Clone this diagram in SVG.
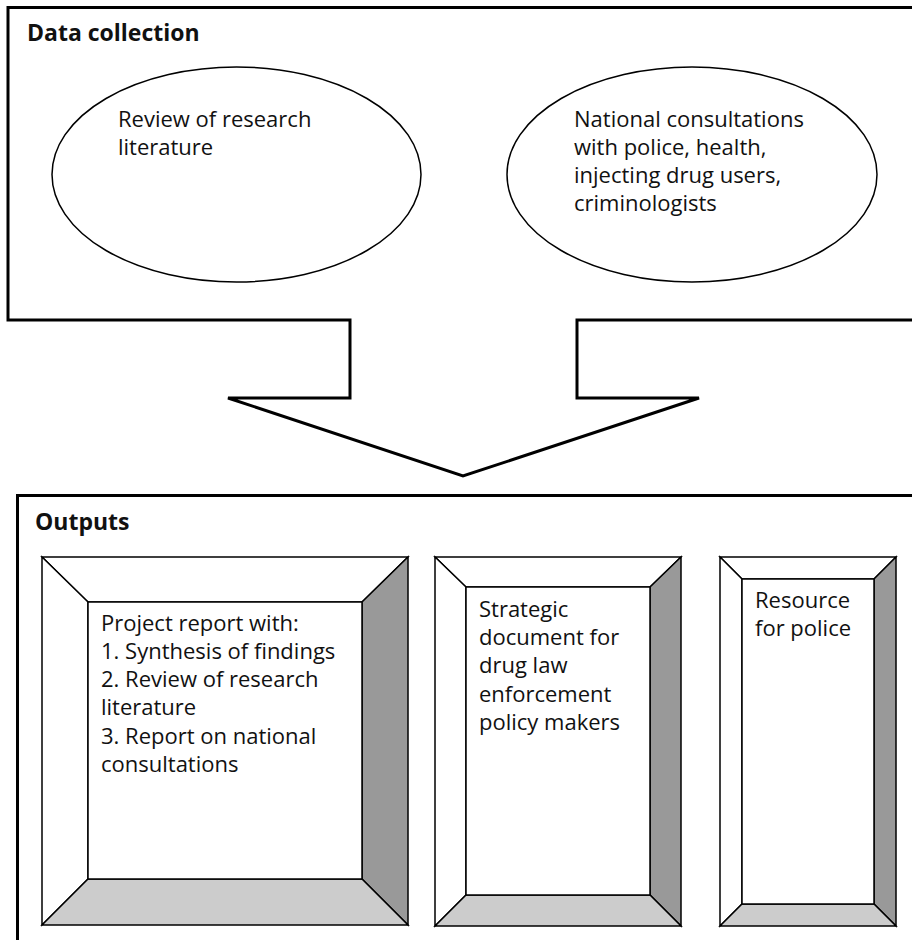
<svg xmlns="http://www.w3.org/2000/svg" width="912" height="940" viewBox="0 0 912 940">
<style>
text{font-family:"Open Sans","Noto Sans","Liberation Sans",sans-serif;fill:#111}
.t{font-size:22px}
.h{font-size:23px;font-weight:bold}
.frame{fill:#fff;stroke:#000;stroke-width:3}
.el{fill:#fff;stroke:#000;stroke-width:1.5}
.bv{stroke:#000;stroke-width:1.5;stroke-linejoin:miter}
.lt{fill:#fff}
.dk{fill:#999}
.md{fill:#ccc}
</style>
<rect width="912" height="940" fill="#fff"/>
<g id="connectors">
<path class="frame" d="M8,7.5 H915 V320 H577 V398 H699 L463,476 L228,398 H350 V320 H8 Z"/>
</g>
<g id="data-collection">
<text class="h" x="27" y="41">Data collection</text>
</g>
<g id="review">
<ellipse class="el" cx="236.5" cy="174.5" rx="184.5" ry="107.5"/>
<text class="t" x="118" y="127">Review of research</text>
<text class="t" x="118" y="155">literature</text>
</g>
<g id="consultations">
<ellipse class="el" cx="692" cy="174.5" rx="185" ry="107.5"/>
<text class="t" x="574" y="127">National consultations</text>
<text class="t" x="574" y="155">with police, health,</text>
<text class="t" x="574" y="183">injecting drug users,</text>
<text class="t" x="574" y="211">criminologists</text>
</g>
<g id="outputs">
<path class="frame" d="M17.5,945 V495.5 H915"/>
<text class="h" x="35" y="530">Outputs</text>
</g>
<g id="project-report">
<polygon class="bv lt" points="42,557 408,557 362,602 88,602"/>
<polygon class="bv lt" points="42,557 88,602 88,879 42,925"/>
<polygon class="bv dk" points="408,557 408,925 362,879 362,602"/>
<polygon class="bv md" points="42,925 88,879 362,879 408,925"/>
<rect class="bv lt" x="88" y="602" width="274" height="277"/>
<text class="t" x="101" y="631">Project report with:</text>
<text class="t" x="101" y="659">1. Synthesis of findings</text>
<text class="t" x="101" y="687">2. Review of research</text>
<text class="t" x="101" y="715">literature</text>
<text class="t" x="101" y="744">3. Report on national</text>
<text class="t" x="101" y="772">consultations</text>
</g>
<g id="strategic-document">
<polygon class="bv lt" points="435,557 681,557 650,587 466,587"/>
<polygon class="bv lt" points="435,557 466,587 466,895 435,926"/>
<polygon class="bv dk" points="681,557 681,926 650,895 650,587"/>
<polygon class="bv md" points="435,926 466,895 650,895 681,926"/>
<rect class="bv lt" x="466" y="587" width="184" height="308"/>
<text class="t" x="479" y="617">Strategic</text>
<text class="t" x="479" y="645">document for</text>
<text class="t" x="479" y="673">drug law</text>
<text class="t" x="479" y="702">enforcement</text>
<text class="t" x="479" y="730">policy makers</text>
</g>
<g id="police-resource">
<polygon class="bv lt" points="720,557 896,557 874,579 742,579"/>
<polygon class="bv lt" points="720,557 742,579 742,904 720,926"/>
<polygon class="bv dk" points="896,557 896,926 874,904 874,579"/>
<polygon class="bv md" points="720,926 742,904 874,904 896,926"/>
<rect class="bv lt" x="742" y="579" width="132" height="325"/>
<text class="t" x="755" y="608">Resource</text>
<text class="t" x="755" y="636">for police</text>
</g>
</svg>
